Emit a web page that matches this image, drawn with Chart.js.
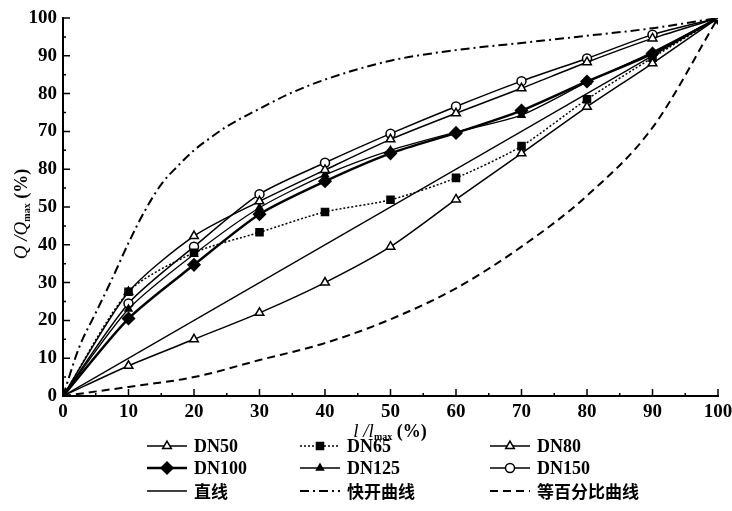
<!DOCTYPE html>
<html>
<head>
<meta charset="utf-8">
<script src="https://cdn.jsdelivr.net/npm/chart.js@4.4.0/dist/chart.umd.min.js"></script>
<style>
body { margin: 0; background: #fff; }
#wrap { width: 732px; height: 511px; }
</style>
</head>
<body>
<div id="wrap"><canvas id="mycanvas" width="732" height="511"></canvas></div>
<script>
// opening degree l/lmax (%) and relative flow Q/Qmax (%)
var openings = [0, 10, 20, 30, 40, 50, 60, 70, 80, 90, 100];
var dn50  = [0, 8, 15, 22, 30, 39.5, 52, 64.2, 76.5, 88, 100];
var dn65  = [0, 27.6, 37.9, 43.3, 48.7, 51.9, 57.7, 66.1, 78.5, 89.5, 100];
var dn80  = [0, 27.5, 42.3, 51.5, 59.8, 67.9, 74.8, 81.4, 88.3, 94.6, 100];
var dn100 = [0, 20.5, 34.7, 48.1, 56.8, 64.2, 69.6, 75.5, 83.2, 90.6, 100];
var dn125 = [0, 23, 37.5, 49.8, 58.5, 65, 69.8, 74.3, 83, 91, 100];
var dn150 = [0, 24.5, 39.5, 53.4, 61.7, 69.4, 76.6, 83.3, 89.3, 95.6, 100];
var linearX = [0, 100];
var linearY = [0, 100];
var quickX = [0, 2.5, 5, 7.5, 10, 12.5, 15, 17.5, 20, 22.5, 25, 30, 35, 40, 50, 60, 70, 80, 90, 100];
var quickY = [0, 13, 22, 31, 40.5, 49, 56, 60.8, 65, 68.3, 71.3, 76, 80.3, 83.7, 88.7, 91.5, 93.4, 95.3, 97.3, 100];
var eqpctY = [0, 2.4, 5, 9.5, 14, 20.3, 28.5, 39.5, 53, 71, 100];

var xTickLabels = ['0', '10', '20', '30', '40', '50', '60', '70', '80', '90', '100'];
var yTickLabels = ['0', '10', '20', '30', '40', '50', '80', '70', '80', '90', '100'];
var legendOrder = ['DN50', 'DN65', 'DN80', 'DN100', 'DN125', 'DN150', '直线', '快开曲线', '等百分比曲线'];

function pts(xs, ys) {
  var out = [];
  for (var i = 0; i < xs.length; i++) out.push({x: xs[i], y: ys[i]});
  return out;
}

var serif = '"Liberation Serif", "Times New Roman", serif';
var cjk = '"Noto Sans CJK SC", sans-serif';

// inward ticks, axis lines, titles, legend
var decor = {
  id: 'decor',
  afterDraw: function(chart) {
    var ctx = chart.ctx, a = chart.chartArea;
    var xs = chart.scales.x, ys = chart.scales.y;
    ctx.save();
    ctx.strokeStyle = '#000';
    ctx.lineWidth = 2;
    ctx.setLineDash([]);
    ctx.beginPath();
    ctx.moveTo(a.left, a.top - 1);
    ctx.lineTo(a.left, a.bottom);
    ctx.lineTo(a.right + 1, a.bottom);
    ctx.stroke();
    ctx.lineWidth = 1.5;
    for (var v = 0; v <= 100; v += 5) {
      var len = (v % 10 === 0) ? 7 : 3;
      var px = xs.getPixelForValue(v), py = ys.getPixelForValue(v);
      ctx.beginPath();
      ctx.moveTo(px, a.bottom); ctx.lineTo(px, a.bottom - len);
      ctx.moveTo(a.left, py); ctx.lineTo(a.left + len, py);
      ctx.stroke();
    }

    // axis titles with subscript "max"
    function title(sym, cx, cy, rot) {
      var parts = [
        {t: sym + ' /' + sym, f: 'italic 19px ' + serif, dy: 0},
        {t: 'max', f: 'bold 10px ' + serif, dy: 5},
        {t: ' (%)', f: 'bold 18px ' + serif, dy: 0}
      ];
      var w = 0;
      parts.forEach(function(p) { ctx.font = p.f; p.w = ctx.measureText(p.t).width; w += p.w; });
      ctx.save();
      ctx.translate(cx, cy);
      ctx.rotate(rot);
      ctx.fillStyle = '#000';
      ctx.textBaseline = 'middle';
      ctx.textAlign = 'left';
      var x = -w / 2;
      parts.forEach(function(p) { ctx.font = p.f; ctx.fillText(p.t, x, p.dy); x += p.w; });
      ctx.restore();
    }
    title('l', 390, 432, 0);
    title('Q', 22, 214, -Math.PI / 2);

    // legend, 3 x 3
    var colX = [147, 300, 490];
    var rowY = [446, 468, 491];
    legendOrder.forEach(function(name, i) {
      var ds = chart.data.datasets.filter(function(d) { return d.label === name; })[0];
      var x1 = colX[i % 3], x2 = x1 + 40, y = rowY[Math.floor(i / 3)];
      ctx.save();
      ctx.strokeStyle = '#000';
      ctx.lineWidth = ds.borderWidth;
      ctx.setLineDash(ds.borderDash || []);
      ctx.beginPath();
      ctx.moveTo(x1, y); ctx.lineTo(x2, y);
      ctx.stroke();
      ctx.setLineDash([]);
      if (ds.pointRadius > 0) {
        ctx.fillStyle = ds.pointBackgroundColor;
        ctx.strokeStyle = '#000';
        ctx.lineWidth = ds.pointBorderWidth;
        Chart.helpers.drawPoint(ctx, {pointStyle: ds.pointStyle, radius: ds.pointRadius, rotation: 0, borderWidth: ds.pointBorderWidth}, (x1 + x2) / 2, y);
      }
      ctx.fillStyle = '#000';
      ctx.textBaseline = 'middle';
      ctx.textAlign = 'left';
      ctx.font = /^DN/.test(name) ? 'bold 18px ' + serif : 'bold 17px ' + cjk;
      ctx.fillText(name, x2 + 7, y + 1);
      ctx.restore();
    });
    ctx.restore();
  }
};

function series(label, ys, style, radius, dash, width, fill) {
  return {
    label: label,
    data: pts(openings, ys),
    borderColor: '#000',
    borderWidth: width,
    borderDash: dash,
    pointStyle: style,
    pointRadius: radius,
    pointBorderWidth: 1.5,
    pointBorderColor: '#000',
    pointBackgroundColor: fill,
    tension: 0.25
  };
}

var datasets = [
  {label: '直线', data: pts(linearX, linearY), borderColor: '#000', borderWidth: 1.5, borderDash: [], pointRadius: 0},
  {label: '快开曲线', data: pts(quickX, quickY), borderColor: '#000', borderWidth: 2, borderDash: [9, 4, 2, 4], pointRadius: 0, cubicInterpolationMode: 'monotone'},
  {label: '等百分比曲线', data: pts(openings, eqpctY), borderColor: '#000', borderWidth: 2, borderDash: [8, 5], pointRadius: 0, cubicInterpolationMode: 'monotone'},
  series('DN50', dn50, 'triangle', 5, [], 1.5, '#fff'),
  series('DN65', dn65, 'rect', 5, [2, 2], 1.5, '#000'),
  series('DN80', dn80, 'triangle', 5, [], 1.5, '#fff'),
  series('DN125', dn125, 'triangle', 4, [], 1.3, '#000'),
  series('DN100', dn100, 'rectRot', 6, [], 2.5, '#000'),
  series('DN150', dn150, 'circle', 4.5, [], 1.5, '#fff')
];

var ctx = document.getElementById('mycanvas');
var chart = new Chart(ctx, {
  type: 'line',
  data: {datasets: datasets},
  options: {
    responsive: false,
    animation: false,
    layout: {padding: {top: 18, right: 14, left: 0, bottom: 0}},
    plugins: {legend: {display: false}, tooltip: {enabled: false}},
    scales: {
      x: {
        type: 'linear', min: 0, max: 100,
        grid: {display: false, drawTicks: false},
        border: {display: false},
        ticks: {
          stepSize: 10, padding: 5, color: '#000',
          font: {family: serif, size: 19, weight: 'bold'},
          callback: function(v) { return xTickLabels[v / 10]; }
        },
        afterFit: function(s) { s.height = 115; s.paddingLeft = 0; s.paddingRight = 0; }
      },
      y: {
        min: 0, max: 100,
        grid: {display: false, drawTicks: false},
        border: {display: false},
        ticks: {
          stepSize: 10, padding: 6, color: '#000',
          font: {family: serif, size: 19, weight: 'bold'},
          callback: function(v) { return yTickLabels[v / 10]; }
        },
        afterFit: function(s) { s.width = 63; }
      }
    }
  },
  plugins: [decor]
});
</script>
</body>
</html>
